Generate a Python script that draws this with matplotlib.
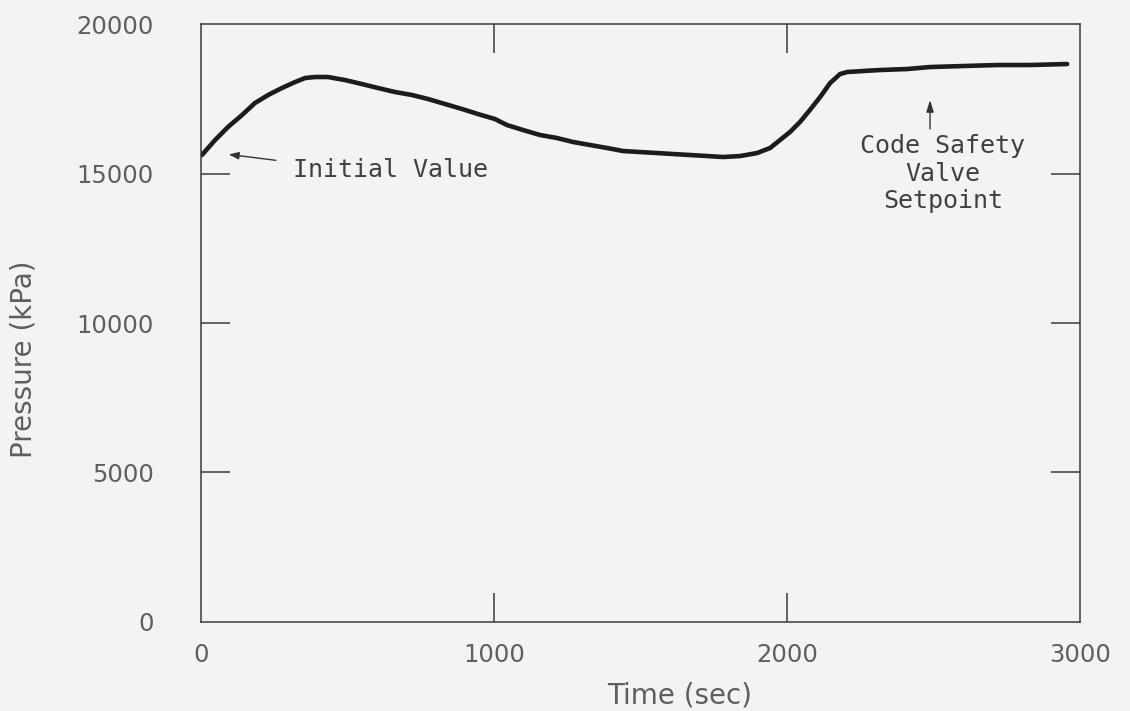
import matplotlib
matplotlib.use("Agg")
import matplotlib.pyplot as plt

# Pressure transient (kPa) versus time (sec)
time_s = [3, 48, 92, 140, 184, 229, 276, 321, 355, 389, 433, 491, 549, 604,
          662, 720, 775, 833, 891, 945, 1003, 1044, 1099, 1157, 1215, 1270,
          1328, 1386, 1440, 1498, 1556, 1611, 1669, 1727, 1782, 1840, 1898,
          1942, 1976, 2010, 2044, 2078, 2113, 2147, 2181, 2205, 2259, 2317,
          2410, 2488, 2601, 2717, 2829, 2956]
pressure_kpa = [15619, 16120, 16555, 16957, 17358, 17626, 17860, 18060,
                18194, 18228, 18228, 18127, 17993, 17860, 17726, 17626,
                17492, 17324, 17157, 16990, 16823, 16622, 16455, 16288,
                16187, 16054, 15953, 15853, 15753, 15719, 15686, 15652,
                15619, 15585, 15552, 15585, 15686, 15853, 16120, 16388,
                16722, 17124, 17559, 18027, 18328, 18395, 18428, 18462,
                18495, 18562, 18595, 18629, 18629, 18662]

# interior ticks get inward marks; the end values are labelled only
x_inner_ticks = [1000, 2000]
x_inner_labels = ["1000", "2000"]
x_end_ticks = [0, 3000]
x_end_labels = ["0", "3000"]
y_inner_ticks = [5000, 10000, 15000]
y_inner_labels = ["5000", "10000", "15000"]
y_end_ticks = [0, 20000]
y_end_labels = ["0", "20000"]

paper = "#f3f3f1"
ink = "#1c1c1c"
frame = "#3a3a3a"
grey = "#5e5e5e"

fig = plt.figure(figsize=(11.3, 7.11), dpi=100, facecolor=paper)
ax = fig.add_axes([0.1779, 0.1252, 0.7779, 0.841], facecolor=paper)

ax.plot(time_s, pressure_kpa, color=ink, lw=3.3, solid_capstyle="round",
        solid_joinstyle="round")

ax.set_xlim(0, 3000)
ax.set_ylim(0, 20000)

ax.set_xticks(x_inner_ticks)
ax.set_xticklabels(x_inner_labels)
ax.set_xticks(x_end_ticks, minor=True)
ax.set_xticklabels(x_end_labels, minor=True)
ax.set_yticks(y_inner_ticks)
ax.set_yticklabels(y_inner_labels)
ax.set_yticks(y_end_ticks, minor=True)
ax.set_yticklabels(y_end_labels, minor=True)

for side in ax.spines.values():
    side.set_color(frame)
    side.set_linewidth(1.1)

ax.tick_params(axis="both", which="major", direction="in", length=21,
               width=1.1, color=frame, top=True, right=True,
               labelsize=17.5, labelcolor=grey)
ax.tick_params(axis="both", which="minor", direction="in", length=0,
               labelsize=17.5, labelcolor=grey)
ax.tick_params(axis="x", which="both", pad=15)
ax.tick_params(axis="y", which="both", pad=34)

ax.set_xlabel("Time (sec)", fontsize=20, color=grey)
ax.set_ylabel("Pressure (kPa)", fontsize=20, color=grey)
ax.xaxis.set_label_coords(0.545, -0.099)
ax.yaxis.set_label_coords(-0.1866, 0.44)

mono = ["DejaVu Sans Mono", "Liberation Mono"]

# Initial value callout
ax.text(314, 15120, "Initial Value", family=mono, fontsize=18,
        color="#404040", ha="left", va="center")
ax.annotate("", xy=(85, 15650), xytext=(265, 15430),
            arrowprops=dict(arrowstyle="-|>,head_length=0.6,head_width=0.22",
                            color="#333333", lw=1.0))

# Code safety valve setpoint callout
ax.text(2532, 16330, "Code Safety\nValve\nSetpoint", family=mono,
        fontsize=18, color="#404040", ha="center", va="top",
        linespacing=1.2)
ax.annotate("", xy=(2488, 17550), xytext=(2488, 16400),
            arrowprops=dict(arrowstyle="-|>,head_length=0.7,head_width=0.22",
                            color="#333333", lw=1.0))

fig.savefig("out.png", dpi=100, facecolor=paper)
